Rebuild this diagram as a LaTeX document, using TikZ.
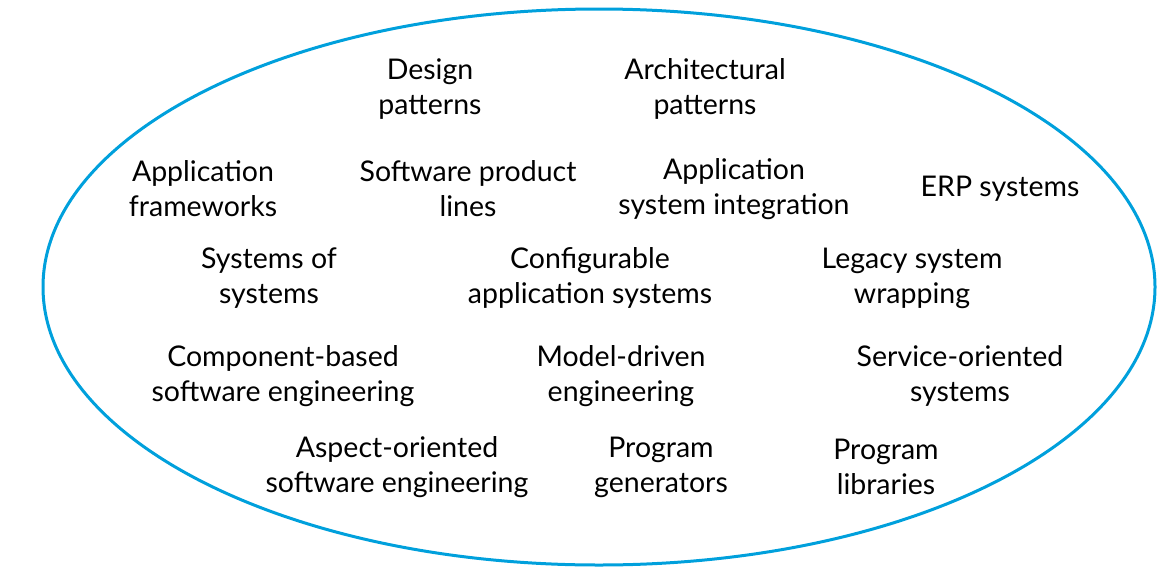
\documentclass[tikz,border=0pt]{standalone}
\usepackage{fontspec}
\setmainfont{Lato}
\definecolor{ell}{RGB}{0,160,220}
\begin{document}
\begin{tikzpicture}[x=1pt,y=-1pt,
  lbl/.style={align=center,font=\fontsize{28.5}{35}\selectfont,inner sep=0pt}]
\useasboundingbox (0,0) rectangle (1164,570);
\draw[ell,line width=3pt] (599,287) ellipse [x radius=556,y radius=278];
\node[lbl] (dp) at (430,89) {Design\\patterns};
\node[lbl] (ap) at (705,89) {Architectural\\patterns};
\node[lbl] (af) at (203,189) {Application\\frameworks};
\node[lbl] (spl) at (468,189) {Software product\\lines};
\node[lbl] (asi) at (734,189) {Application\\system integration};
\node[lbl] (erp) at (1000,189) {ERP systems};
\node[lbl] (sos) at (269,278) {Systems of\\systems};
\node[lbl] (cas) at (590,278) {Configurable\\application systems};
\node[lbl] (lsw) at (912,278) {Legacy system\\wrapping};
\node[lbl] (cbse) at (283,376) {Component-based\\software engineering};
\node[lbl] (mde) at (621,376) {Model-driven\\engineering};
\node[lbl] (sos2) at (960,376) {Service-oriented\\systems};
\node[lbl] (aose) at (397,467) {Aspect-oriented\\software engineering};
\node[lbl] (pg) at (661,467) {Program\\generators};
\node[lbl] (pl) at (886,467) {Program\\libraries};
\end{tikzpicture}
\end{document}
